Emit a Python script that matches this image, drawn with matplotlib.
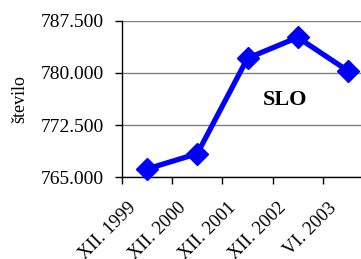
import matplotlib
matplotlib.use('Agg')
import matplotlib.pyplot as plt
from matplotlib.ticker import FuncFormatter
from matplotlib.transforms import ScaledTranslation

kategorije = ['XII. 1999', 'XII. 2000', 'XII. 2001', 'XII. 2002', 'VI. 2003']
stevilo = [766.2, 768.4, 782.1, 785.1, 780.3]
yticks = [765.0, 772.5, 780.0, 787.5]

plt.rcParams['font.family'] = ['Liberation Serif', 'DejaVu Serif']

fig = plt.figure(figsize=(3.61, 2.59), dpi=100)
ax = fig.add_axes([122 / 361, 1 - 177.3 / 259, 251 / 361, 156.6 / 259])

x = list(range(len(kategorije)))
ax.plot(x, stevilo, color='#0000ff', linewidth=3.8, marker='D', markersize=11, clip_on=False, zorder=3)

ax.set_xlim(-0.5, len(kategorije) - 0.5)
ax.set_ylim(765, 787.5)
ax.set_yticks(yticks)
ax.yaxis.set_major_formatter(FuncFormatter(lambda v, p: f'{v:.3f}'))
ax.yaxis.grid(True, color='#808080', linewidth=1)
ax.set_axisbelow(True)

ax.set_xticks([i - 0.5 for i in x] + [len(x) - 0.5])
ax.set_xticklabels([])
ax.set_xticks(x, minor=True)
ax.set_xticklabels(kategorije, minor=True, rotation=45, ha='right', rotation_mode='anchor', fontsize=13.5)
ax.tick_params(axis='x', which='minor', length=0, pad=6)
ax.tick_params(axis='x', which='major', length=5, width=1, color='black')
ax.tick_params(axis='y', length=5, width=1, labelsize=14, pad=8)
off = ScaledTranslation(-20 / 100, -14 / 100, fig.dpi_scale_trans)
for lab in ax.get_xticklabels(minor=True):
    lab.set_transform(lab.get_transform() + off)

for s in ['top', 'right']:
    ax.spines[s].set_visible(False)
ax.spines['left'].set_linewidth(1)
ax.spines['bottom'].set_linewidth(1)

ax.set_ylabel('število', fontsize=13, labelpad=9)
ax.text(2.75, 776.1, 'SLO', fontsize=16, fontweight='bold', ha='center', va='center')

fig.savefig('out.png', dpi=100)
